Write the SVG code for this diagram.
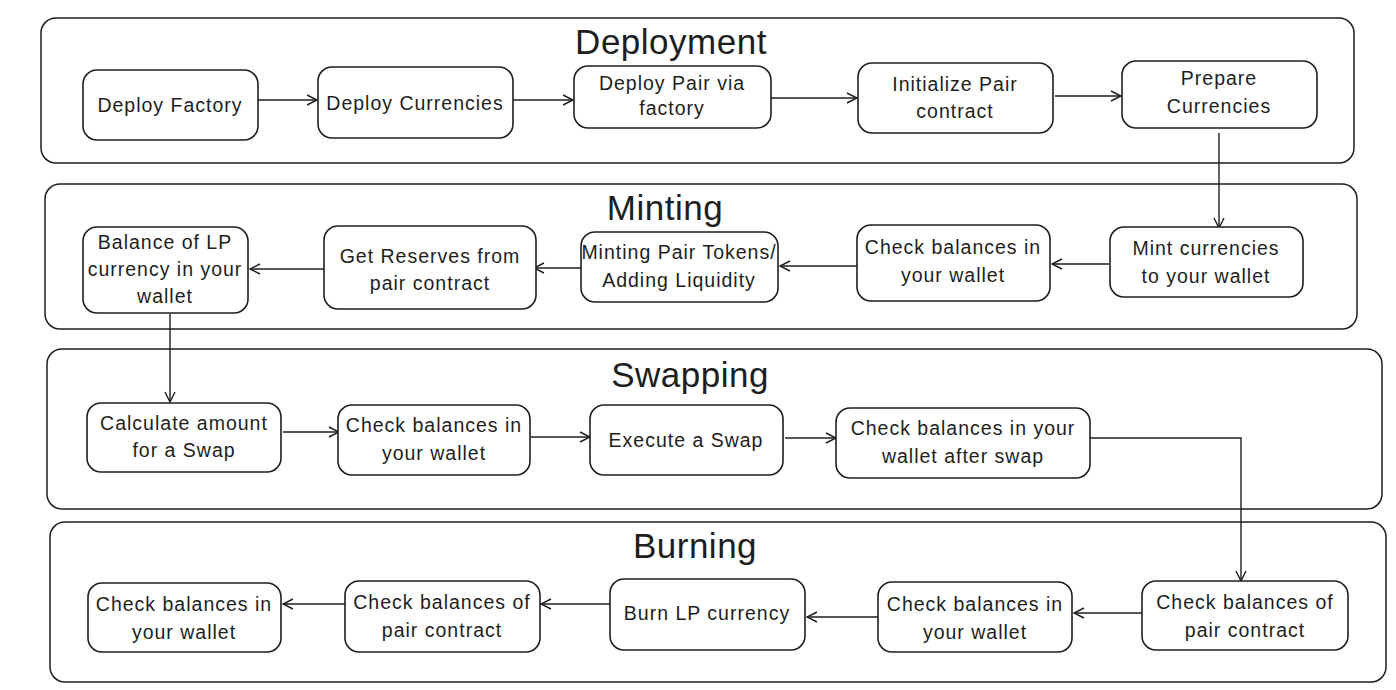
<svg xmlns="http://www.w3.org/2000/svg" width="1396" height="690" viewBox="0 0 1396 690">
<style>
.c{fill:#fff;stroke:#1e1e1e;stroke-width:1.5}
.n{fill:#fff;stroke:#1e1e1e;stroke-width:1.6}
.t{font-family:"Liberation Sans",Arial,sans-serif;font-size:19.5px;fill:#1e1e1e;text-anchor:middle;letter-spacing:1px}
.h{font-family:"Liberation Sans",Arial,sans-serif;font-size:35px;fill:#1e1e1e;text-anchor:middle;letter-spacing:0.5px}
.e{fill:none;stroke:#1e1e1e;stroke-width:1.4;marker-end:url(#a)}
</style>
<defs>
<marker id="a" viewBox="0 0 12 12" refX="11" refY="6" markerWidth="12" markerHeight="12" markerUnits="userSpaceOnUse" orient="auto">
<path d="M1,1 L11,6 L1,11" fill="none" stroke="#1e1e1e" stroke-width="1.4"/>
</marker>
</defs>
<rect width="1396" height="690" fill="#fff"/>
<g id="deployment">
<rect class="c" x="41" y="18" width="1313" height="145" rx="15"/>
<text class="h" x="671" y="54">Deployment</text>
</g>
<g id="minting">
<rect class="c" x="45" y="184" width="1312" height="145" rx="15"/>
<text class="h" x="665" y="220">Minting</text>
</g>
<g id="swapping">
<rect class="c" x="47" y="349" width="1335" height="160" rx="15"/>
<text class="h" x="690" y="387">Swapping</text>
</g>
<g id="burning">
<rect class="c" x="50" y="522" width="1336" height="160" rx="15"/>
<text class="h" x="695" y="558">Burning</text>
</g>
<g id="connectors">
<path class="e" d="M258,100 L317,100"/>
<path class="e" d="M513,100 L573,100"/>
<path class="e" d="M771,98 L857,98"/>
<path class="e" d="M1055,96 L1121,96"/>
<path class="e" d="M1219,133 L1219,228"/>
<path class="e" d="M1109,264 L1052,264"/>
<path class="e" d="M857,266 L780,266"/>
<path class="e" d="M581,268 L534,268"/>
<path class="e" d="M324,269 L250,269"/>
<path class="e" d="M170,314 L170,402"/>
<path class="e" d="M283,432 L339,432"/>
<path class="e" d="M531,437 L590,437"/>
<path class="e" d="M785,438 L836,438"/>
<path class="e" d="M1090,438 L1241,438 L1241,581"/>
<path class="e" d="M1142,613 L1074,613"/>
<path class="e" d="M878,617 L807,617"/>
<path class="e" d="M610,604 L541,604"/>
<path class="e" d="M345,604 L283,604"/>
</g>
<g id="n1"><rect class="n" x="83" y="70" width="175" height="70" rx="14"/><text class="t" x="170" y="112">Deploy Factory</text></g>
<g id="n2"><rect class="n" x="318" y="67" width="195" height="71" rx="14"/><text class="t" x="415" y="110">Deploy Currencies</text></g>
<g id="n3"><rect class="n" x="574" y="66" width="197" height="62" rx="14"/><text class="t" x="672" y="90">Deploy Pair via</text><text class="t" x="672" y="115">factory</text></g>
<g id="n4"><rect class="n" x="858" y="63" width="195" height="70" rx="14"/><text class="t" x="955" y="91">Initialize Pair</text><text class="t" x="955" y="118">contract</text></g>
<g id="n5"><rect class="n" x="1122" y="61" width="195" height="67" rx="14"/><text class="t" x="1219" y="85">Prepare</text><text class="t" x="1219" y="113">Currencies</text></g>
<g id="n6"><rect class="n" x="1110" y="227" width="193" height="70" rx="14"/><text class="t" x="1206" y="255">Mint currencies</text><text class="t" x="1206" y="283">to your wallet</text></g>
<g id="n7"><rect class="n" x="857" y="225" width="193" height="76" rx="14"/><text class="t" x="953" y="254">Check balances in</text><text class="t" x="953" y="282">your wallet</text></g>
<g id="n8"><rect class="n" x="581" y="232" width="197" height="70" rx="14"/><text class="t" x="679" y="259">Minting Pair Tokens/</text><text class="t" x="679" y="287">Adding Liquidity</text></g>
<g id="n9"><rect class="n" x="324" y="226" width="212" height="83" rx="14"/><text class="t" x="430" y="263">Get Reserves from</text><text class="t" x="430" y="290">pair contract</text></g>
<g id="n10"><rect class="n" x="83" y="227" width="165" height="86" rx="14"/><text class="t" x="165" y="249">Balance of LP</text><text class="t" x="165" y="276">currency in your</text><text class="t" x="165" y="303">wallet</text></g>
<g id="n11"><rect class="n" x="87" y="403" width="194" height="69" rx="14"/><text class="t" x="184" y="430">Calculate amount</text><text class="t" x="184" y="457">for a Swap</text></g>
<g id="n12"><rect class="n" x="338" y="405" width="192" height="70" rx="14"/><text class="t" x="434" y="432">Check balances in</text><text class="t" x="434" y="460">your wallet</text></g>
<g id="n13"><rect class="n" x="590" y="405" width="193" height="70" rx="14"/><text class="t" x="686" y="447">Execute a Swap</text></g>
<g id="n14"><rect class="n" x="836" y="408" width="254" height="70" rx="14"/><text class="t" x="963" y="435">Check balances in your</text><text class="t" x="963" y="463">wallet after swap</text></g>
<g id="n15"><rect class="n" x="1142" y="581" width="206" height="69" rx="14"/><text class="t" x="1245" y="609">Check balances of</text><text class="t" x="1245" y="637">pair contract</text></g>
<g id="n16"><rect class="n" x="878" y="582" width="194" height="70" rx="14"/><text class="t" x="975" y="611">Check balances in</text><text class="t" x="975" y="639">your wallet</text></g>
<g id="n17"><rect class="n" x="610" y="579" width="195" height="71" rx="14"/><text class="t" x="707" y="620">Burn LP currency</text></g>
<g id="n18"><rect class="n" x="345" y="581" width="195" height="71" rx="14"/><text class="t" x="442" y="609">Check balances of</text><text class="t" x="442" y="637">pair contract</text></g>
<g id="n19"><rect class="n" x="88" y="583" width="193" height="69" rx="14"/><text class="t" x="184" y="611">Check balances in</text><text class="t" x="184" y="639">your wallet</text></g>
</svg>
